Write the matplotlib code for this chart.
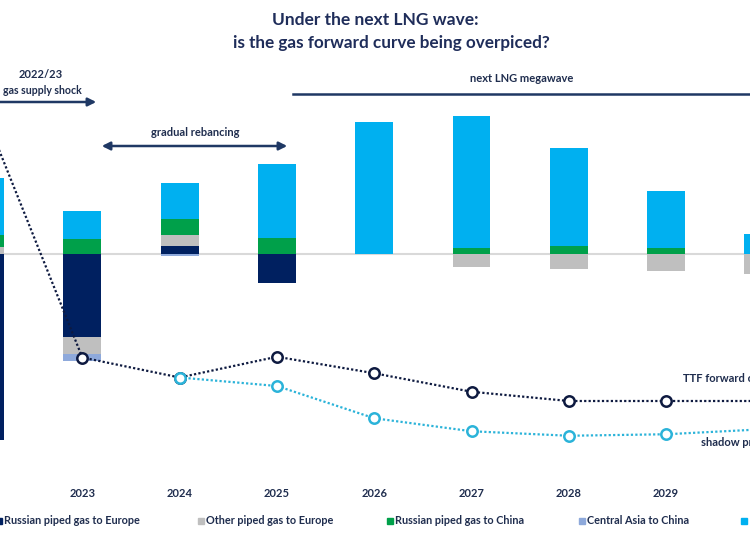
import numpy as np
import matplotlib.pyplot as plt
from matplotlib.patches import Rectangle

plt.rcParams['font.family'] = ['Lato', 'DejaVu Sans']

W, H = 750, 536

years = [2022, 2023, 2024, 2025, 2026, 2027, 2028, 2029, 2030]
shown_years = [2023, 2024, 2025, 2026, 2027, 2028, 2029]
series = ['Russian piped gas to Europe', 'Other piped gas to Europe',
          'Russian piped gas to China', 'Central Asia to China', 'LNG']
rus_europe = [-93, -41.5, 4, -14.5, 0, 0, 0, 0, 0]
other_europe = [3.5, -8.5, 5.5, 0, 0, -6.5, -7.5, -8.5, -10]
rus_china = [6, 7.5, 8, 8, 0, 3, 4, 3, 0]
central_asia = [0, -3.5, -1, 0, 0, 0, 0, 0, 0]
lng = [28.5, 14, 18, 37, 66, 66, 49, 28.5, 10]

ttf = [138, 41, 33, 41.3, 34.7, 27.3, 23.6, 23.6, 23.6]
shadow = [np.nan, np.nan, 33, 29.6, 16.7, 11.5, 9.7, 10.3, 12.3]

colors = ['#002060', '#BFBFBF', '#00A04A', '#8EA9DB', '#00B0F0']
navy_txt = '#1F2D4E'


def P(x, y):
    # pixel position from the top-left -> figure fraction
    return x / W, 1 - y / H


fig = plt.figure(figsize=(7.5, 5.36), dpi=100)
ax = fig.add_axes([0, (H - 470) / H, 1, 370 / H])

pos = np.zeros(len(years))
neg = np.zeros(len(years))
for vals, c in zip([rus_europe, other_europe, rus_china, central_asia, lng], colors):
    v = np.array(vals, dtype=float)
    bottom = np.where(v >= 0, pos, neg)
    ax.bar(years, v, bottom=bottom, width=0.39, color=c, zorder=2)
    pos = pos + np.clip(v, 0, None)
    neg = neg + np.clip(v, None, 0)

ax.axhline(0, color='#D9D9D9', lw=1.5, zorder=1)

for s in ax.spines.values():
    s.set_visible(False)
ax.set_yticks([])
ax.set_xticks(shown_years)
ax.set_xticklabels([str(y) for y in shown_years], fontsize=8, fontweight='bold', color=navy_txt)
ax.tick_params(axis='x', length=0, pad=13)
ax.set_xlim(2022.154, 2029.862)
ax.set_ylim(-108, 77)

ax2 = ax.twinx()
ax2.plot(years, ttf, ls=(0, (1, 1)), lw=1.6, color='#0E1A40', marker='o', ms=7.5,
         mfc='white', mec='#0E1A40', mew=1.8, zorder=3)
ax2.plot(years, shadow, ls=(0, (1, 1)), lw=1.6, color='#2BB3D9', marker='o', ms=7.5,
         mfc='white', mec='#2BB3D9', mew=1.8, zorder=4)
ax2.set_yticks([])
for s in ax2.spines.values():
    s.set_visible(False)
ax2.set_xlim(2022.154, 2029.862)
ax2.set_ylim(-4, 144)

# title
fig.text(*P(375, 20), 'Under the next LNG wave:', ha='center', va='center',
         fontsize=12.5, fontweight='bold', color='#1F2D5A')
fig.text(*P(391, 43), 'is the gas forward curve being overpiced?', ha='center', va='center',
         fontsize=12.3, fontweight='bold', color='#1F2D5A')

# period annotations
fig.text(*P(41, 75), '2022/23', ha='center', va='center', fontsize=8, fontweight='bold', color=navy_txt)
fig.text(*P(82, 90), 'gas supply shock', ha='right', va='center', fontsize=7.6, fontweight='bold', color=navy_txt)
ax.annotate('', xy=P(99, 102), xytext=P(-20, 102), xycoords='figure fraction',
            textcoords='figure fraction', annotation_clip=False,
            arrowprops=dict(arrowstyle='-|>', color='#1F3864', lw=1.8, mutation_scale=12))

fig.text(*P(195, 133), 'gradual rebancing', ha='center', va='center', fontsize=8, fontweight='bold', color=navy_txt)
ax.annotate('', xy=P(290, 146), xytext=P(99, 146), xycoords='figure fraction',
            textcoords='figure fraction', annotation_clip=False,
            arrowprops=dict(arrowstyle='<|-|>', color='#1F3864', lw=1.8, mutation_scale=12))

fig.text(*P(522, 78), 'next LNG megawave', ha='center', va='center', fontsize=8, fontweight='bold', color=navy_txt)
fig.add_artist(plt.Line2D([293 / W, 1.02], [1 - 94 / H, 1 - 94 / H], color='#1F3864', lw=1.8))

# line labels
fig.text(*P(683, 378), 'TTF forward curve', ha='left', va='center', fontsize=8, fontweight='bold', color=navy_txt)
fig.text(*P(701, 443), 'shadow price', ha='left', va='center', fontsize=8, fontweight='bold', color=navy_txt)

# legend
leg_x = [-4, 198, 387, 579, 741]
for x, name, c in zip(leg_x, series, colors):
    fx, fy = P(x, 524)
    fig.add_artist(Rectangle((fx, fy), 6 / W, 6 / H, color=c, transform=fig.transFigure))
    fig.text(*P(x + 8, 521), name, ha='left', va='center', fontsize=7.8,
             fontweight='bold', color=navy_txt)

fig.savefig('out.png', dpi=100)
